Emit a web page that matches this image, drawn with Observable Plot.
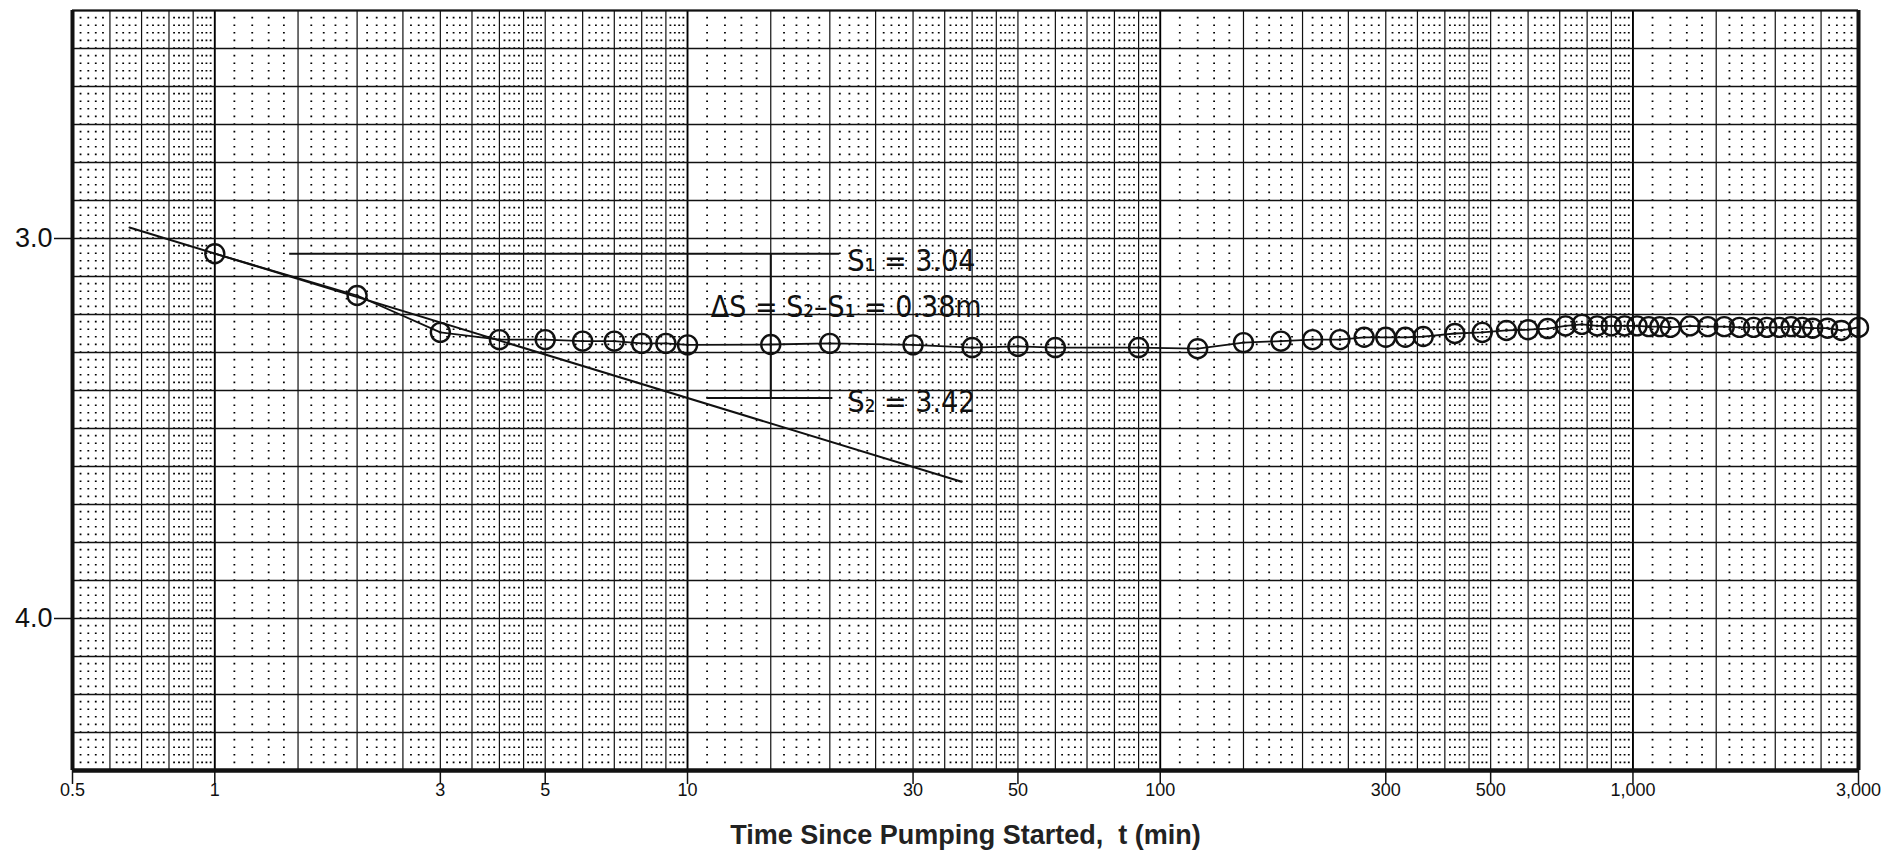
<!DOCTYPE html>
<html><head><meta charset="utf-8">
<script src="https://cdn.jsdelivr.net/npm/d3@7"></script>
<script src="https://cdn.jsdelivr.net/npm/@observablehq/plot@0.6"></script>
<style>
html,body{margin:0;padding:0;background:#fff;}
#chart svg{display:block;}
</style></head><body><div id="chart"></div>
<script>
// ---- data ----
const times = [1, 2, 3, 4, 5, 6, 7, 8, 9, 10, 15, 20, 30, 40, 50, 60, 90, 120, 150, 180, 210, 240, 270, 300, 330, 360, 420, 480, 540, 600, 660, 720, 780, 840, 900, 960, 1020, 1080, 1140, 1200, 1320, 1440, 1560, 1680, 1800, 1920, 2040, 2160, 2280, 2400, 2580, 2760, 3000];
const drawdown = [3.04, 3.15, 3.247, 3.266, 3.266, 3.27, 3.27, 3.276, 3.276, 3.28, 3.279, 3.276, 3.28, 3.287, 3.284, 3.287, 3.287, 3.29, 3.274, 3.27, 3.266, 3.266, 3.26, 3.26, 3.26, 3.258, 3.25, 3.247, 3.242, 3.24, 3.237, 3.23, 3.226, 3.23, 3.23, 3.23, 3.23, 3.232, 3.232, 3.234, 3.23, 3.232, 3.232, 3.234, 3.234, 3.234, 3.234, 3.232, 3.234, 3.236, 3.236, 3.242, 3.234];
const fitLineT = [0.66, 38];
const fitLineS = [2.971, 3.64];
const s1Value = 3.04, s2Value = 3.42;
const s1LineT = [1.44, 21];
const s2LineT = [11, 20.3];
const deltaArrowT = 15;
const annotationTexts = ["S\u2081 = 3.04", "\u0394S = S\u2082\u2013S\u2081 = 0.38m", "S\u2082 = 3.42"];
const annotationT = [21.8, 11.2, 21.8];
const annotationS = [3.06, 3.18, 3.43];
const xTicks = [0.5, 1, 3, 5, 10, 30, 50, 100, 300, 500, 1000, 3000];
const xTickLabels = ["0.5", "1", "3", "5", "10", "30", "50", "100", "300", "500", "1,000", "3,000"];
const yTicks = [3.0, 4.0];
const yTickLabels = ["3.0", "4.0"];
const xTitle = "Time Since Pumping Started,  t (min)";
const xDomain = [0.5, 3000];
const yDomain = [2.4, 4.4];

// ---- graph-paper grid (semi-log paper) ----
const majorMult = [1, 1.5, 2, 2.5, 3, 3.5, 4, 4.5, 5, 6, 7, 8, 9];
const decades = [0.1, 1, 10, 100, 1000];
const inDom = v => v >= xDomain[0] - 1e-9 && v <= xDomain[1] + 1e-9;
const majorV = [], decadeV = [], minorV = [];
for (const d of decades) {
  for (const m of majorMult) { const v = +(m * d).toPrecision(6); if (inDom(v)) (m === 1 ? decadeV : majorV).push(v); }
  for (let k = 11; k < 100; k += (k < 50 ? 1 : 2)) {
    const m = k / 10;
    if (majorMult.some(q => Math.abs(q - m) < 1e-9)) continue;
    const v = +(m * d).toPrecision(6);
    if (inDom(v)) minorV.push(v);
  }
}
const hLines = d3.range(0, 21).map(i => +(2.4 + i * 0.1).toFixed(2));

const rows = times.map((t, i) => ({t, s: drawdown[i]}));
const fitRows = fitLineT.map((t, i) => ({t, s: fitLineS[i]}));
const annRows = annotationTexts.map((txt, i) => ({txt, t: annotationT[i], s: annotationS[i]}));
const xLabelRows = xTicks.map((t, i) => ({t, label: xTickLabels[i]}));

const ink = "#111";
const chart = Plot.plot({
  width: 1887, height: 859,
  marginLeft: 72, marginRight: 29, marginTop: 10, marginBottom: 89,
  style: {fontFamily: "'Liberation Sans', Arial, sans-serif", background: "#fff", color: ink, overflow: "visible"},
  x: {type: "log", domain: xDomain},
  y: {domain: yDomain, reverse: true},
  marks: [
    // dotted lattice
    Plot.ruleX(minorV, {y1: yDomain[0], y2: yDomain[1], stroke: "#000", strokeWidth: 1.8, strokeDasharray: "1.6,6", strokeDashoffset: 0.8}),
    Plot.ruleX(majorV, {y1: yDomain[0], y2: yDomain[1], stroke: "#111", strokeWidth: 1.2}),
    Plot.ruleX(decadeV, {y1: yDomain[0], y2: yDomain[1], stroke: "#000", strokeWidth: 1.9}),
    Plot.ruleY(hLines, {x1: xDomain[0], x2: xDomain[1], stroke: "#111", strokeWidth: 1.4}),
    // frame
    Plot.ruleX([xDomain[0]], {y1: yDomain[0], y2: yDomain[1], stroke: ink, strokeWidth: 4}),
    Plot.ruleX([xDomain[1]], {y1: yDomain[0], y2: yDomain[1], stroke: ink, strokeWidth: 4}),
    Plot.ruleY([yDomain[1]], {x1: xDomain[0], x2: xDomain[1], stroke: ink, strokeWidth: 4.5}),
    Plot.ruleY([yDomain[0]], {x1: xDomain[0], x2: xDomain[1], stroke: ink, strokeWidth: 2}),
    // axes
    Plot.axisX({ticks: xTicks, tickSize: 14, text: null, strokeWidth: 1.5, label: null}),
    Plot.text(xLabelRows, {x: "t", text: "label", frameAnchor: "bottom", dy: 25, fontSize: 18, fill: ink}),
    Plot.axisY({ticks: yTicks, tickFormat: d => yTickLabels[yTicks.indexOf(d)], tickSize: 18, tickPadding: 2, fontSize: 27, strokeWidth: 1.5, label: null}),
    Plot.text([xTitle], {text: d => d, frameAnchor: "bottom", dy: 73, fontSize: 27, fontWeight: "bold", fill: "#222"}),
    // straight-line fit
    Plot.line(fitRows, {x: "t", y: "s", stroke: ink, strokeWidth: 2}),
    // annotations
    Plot.ruleY([s1Value], {x1: s1LineT[0], x2: s1LineT[1], stroke: ink, strokeWidth: 2}),
    Plot.ruleY([s2Value], {x1: s2LineT[0], x2: s2LineT[1], stroke: ink, strokeWidth: 2}),
    Plot.ruleX([deltaArrowT], {y1: s1Value, y2: s2Value, stroke: ink, strokeWidth: 2}),
    Plot.text(annRows, {x: "t", y: "s", text: "txt", textAnchor: "start", fontSize: 30, fill: ink,
      fontFamily: "'Liberation Sans Narrow', 'DejaVu Sans Condensed', sans-serif"}),
    // observed data
    Plot.line(rows, {x: "t", y: "s", stroke: ink, strokeWidth: 1.8}),
    Plot.dot(rows, {x: "t", y: "s", r: 9.5, stroke: ink, strokeWidth: 2.4, fill: "none"}),
    Plot.dot(rows, {x: "t", y: "s", r: 1.4, fill: ink})
  ]
});
document.getElementById("chart").appendChild(chart);
</script></body></html>
